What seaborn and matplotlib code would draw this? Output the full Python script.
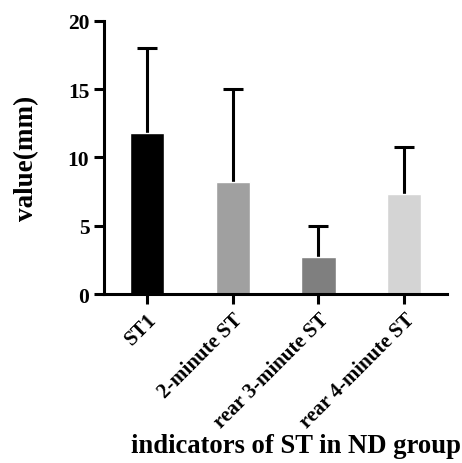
import matplotlib
matplotlib.use("Agg")
import matplotlib.pyplot as plt
import seaborn as sns
import pandas as pd

categories = ["ST1", "2-minute ST", "rear 3-minute ST", "rear 4-minute ST"]
means = [11.8, 8.2, 2.7, 7.3]
sds = [6.2, 6.8, 2.3, 3.5]
colors = ["#000000", "#a0a0a0", "#7f7f7f", "#d4d4d4"]
yticks = [0, 5, 10, 15, 20]

sns.set_style("ticks")
plt.rcParams["font.family"] = ["Liberation Serif", "DejaVu Serif"]
plt.rcParams["font.weight"] = "bold"
plt.rcParams["text.color"] = "black"
plt.rcParams["axes.labelcolor"] = "black"
plt.rcParams["axes.edgecolor"] = "black"
plt.rcParams["xtick.color"] = "black"
plt.rcParams["ytick.color"] = "black"

df = pd.DataFrame({"cat": categories, "val": means})

fig = plt.figure(figsize=(4.62, 4.64), dpi=100)
ax = fig.add_axes([0.225, 0.364, 0.743, 0.589])

sns.barplot(data=df, x="cat", y="val", hue="cat", palette=colors, legend=False,
            width=0.4, ax=ax, saturation=1, errorbar=None, zorder=2)

eb = ax.errorbar(range(len(categories)), means, yerr=[[0] * len(sds), sds], fmt="none",
                 ecolor="black", elinewidth=2.2, capsize=7.5, capthick=2.2, zorder=1)
# keep only the upper caps
caplines = eb[1]
if len(caplines) == 2:
    caplines[0].set_visible(False)

ax.set_ylim(0, 20)
ax.set_xlim(-0.5, 3.5)
ax.set_yticks(yticks)
ax.set_yticklabels([str(t) for t in yticks], fontsize=15.5, fontweight="bold")
ax.set_xticks(range(len(categories)))
ax.set_xticklabels(categories, rotation=45, ha="right", rotation_mode="anchor",
                   fontsize=15, fontweight="bold")
for s in ["top", "right"]:
    ax.spines[s].set_visible(False)
for s in ["left", "bottom"]:
    ax.spines[s].set_linewidth(2.2)
    ax.spines[s].set_color("black")
ax.tick_params(axis="both", width=2.2, length=7, colors="black")
ax.tick_params(axis="x", pad=4)

ax.set_ylabel("value(mm)", fontsize=19.5, fontweight="bold", color="black")
ax.set_xlabel("indicators of ST in ND group", fontsize=19.2, fontweight="bold", color="black")
ax.xaxis.set_label_coords(0.56, -0.51)
ax.yaxis.set_label_coords(-0.19, 0.5)

fig.savefig("out.png", dpi=100)
